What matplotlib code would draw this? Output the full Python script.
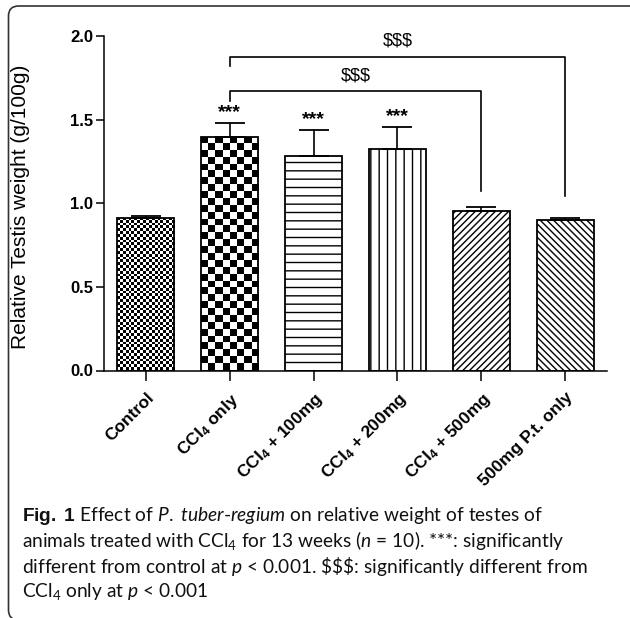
import numpy as np
import matplotlib.pyplot as plt
from matplotlib.patches import FancyBboxPatch

plt.rcParams['font.family'] = ['Liberation Sans', 'DejaVu Sans']
plt.rcParams['mathtext.fontset'] = 'custom'
plt.rcParams['mathtext.rm'] = 'Lato'
plt.rcParams['mathtext.it'] = 'Lato:italic'
plt.rcParams['mathtext.bf'] = 'Liberation Sans:bold'
plt.rcParams['hatch.linewidth'] = 1.0

# Data
groups = ['Control', 'CCl$_\\mathbf{4}$ only', 'CCl$_\\mathbf{4}$ + 100mg',
          'CCl$_\\mathbf{4}$ + 200mg', 'CCl$_\\mathbf{4}$ + 500mg', '500mg P.t. only']
means = [0.91, 1.395, 1.28, 1.322, 0.955, 0.90]
errors = [0.015, 0.083, 0.155, 0.132, 0.022, 0.012]
stars = ['', '***', '***', '***', '', '']
hatches = [None, None, '--', '||', '/////', '\\\\\\\\\\']

# comparisons against CCl4 only: (from, to, bracket height, left leg end, right leg end)
brackets = [(1, 4, 1.67, 1.612, 1.073), (1, 5, 1.877, 1.823, 1.044)]

W, H = 630, 618
fig = plt.figure(figsize=(W / 100, H / 100), dpi=100)
ax = fig.add_axes([104 / W, (H - 370.5) / H, 503 / W, 334.5 / H])

x = np.arange(len(groups))
bars = ax.bar(x, means, width=0.68, color='white', edgecolor='black', linewidth=1.3)
for b, h in zip(bars, hatches):
    if h:
        b.set_hatch(h)

# checkerboard fills for first two bars
px_x = 503 / 6.0
px_y = 334.5 / 2.0
for b, sq in [(bars[0], 2.8), (bars[1], 6.9)]:
    b.set_facecolor('none')
    x0, w, hgt = b.get_x(), b.get_width(), b.get_height()
    nx = int(round(w * px_x / sq))
    ny = int(round(hgt * px_y / sq))
    ii, jj = np.indices((ny, nx))
    board = (ii + jj) % 2
    im = ax.imshow(board, cmap='gray', extent=(x0, x0 + w, 0, hgt), origin='upper',
                   aspect='auto', interpolation='nearest', zorder=0.5)
    im.set_clip_path(b)

ax.errorbar(x, means, yerr=[np.zeros(len(x)), errors], fmt='none', ecolor='black',
            elinewidth=1.2, capsize=10.5, capthick=1.3, zorder=3)

for xi, m, e, s in zip(x, means, errors, stars):
    if s:
        ax.text(xi, m + e + 0.012, s, ha='center', va='bottom', fontsize=14, fontweight='bold')

for a, b2, y, yl, yr in brackets:
    ax.plot([a, a, b2, b2], [yl, y, y, yr], color='black', lw=1.2, clip_on=False)
    ax.text((a + b2) / 2, y + 0.04, '$$$', ha='center', va='bottom', fontsize=13)

ax.set_xlim(-0.5, 5.5)
ax.set_ylim(0, 2.0)
ax.set_yticks([0.0, 0.5, 1.0, 1.5, 2.0])
ax.set_yticklabels(['0.0', '0.5', '1.0', '1.5', '2.0'], fontweight='bold', fontsize=12)
ax.set_xticks(x)
ax.set_xticklabels(groups, rotation=45, ha='right', rotation_mode='anchor',
                   fontweight='bold', fontsize=12.5)
ax.tick_params(axis='y', length=6, width=1.1, pad=2)
ax.tick_params(axis='x', length=7, width=1.1, pad=7)
for sp in ['top', 'right']:
    ax.spines[sp].set_visible(False)
for sp in ['left', 'bottom']:
    ax.spines[sp].set_linewidth(1.1)
ax.set_ylabel('Relative Testis weight (g/100g)', fontsize=15)
ax.yaxis.set_label_coords(-0.147, 0.49)

# caption
cap = [r'$\mathbf{Fig.}$ $\mathbf{1}$ Effect of $\mathit{P.}$ $\mathit{tuber}$-$\mathit{regium}$ on relative weight of testes of',
       r'animals treated with CCl$_4$ for 13 weeks ($n$ = 10). ***: significantly',
       r'different from control at $p$ < 0.001. \$\$\$: significantly different from',
       r'CCl$_4$ only at $p$ < 0.001']
for i, line in enumerate(cap):
    fig.text(22 / W, 1 - (516 + 25 * i) / H, line, fontsize=13.8, family='Lato',
             ha='left', va='center', color='#111111')

frame = FancyBboxPatch((8.5 / W, -2 / H), 640 / W, 614 / H, transform=fig.transFigure,
                       boxstyle='round,pad=0,rounding_size=0.016', fill=False,
                       edgecolor='#333333', linewidth=1.2)
fig.patches.append(frame)

fig.savefig('out.png', dpi=100)
